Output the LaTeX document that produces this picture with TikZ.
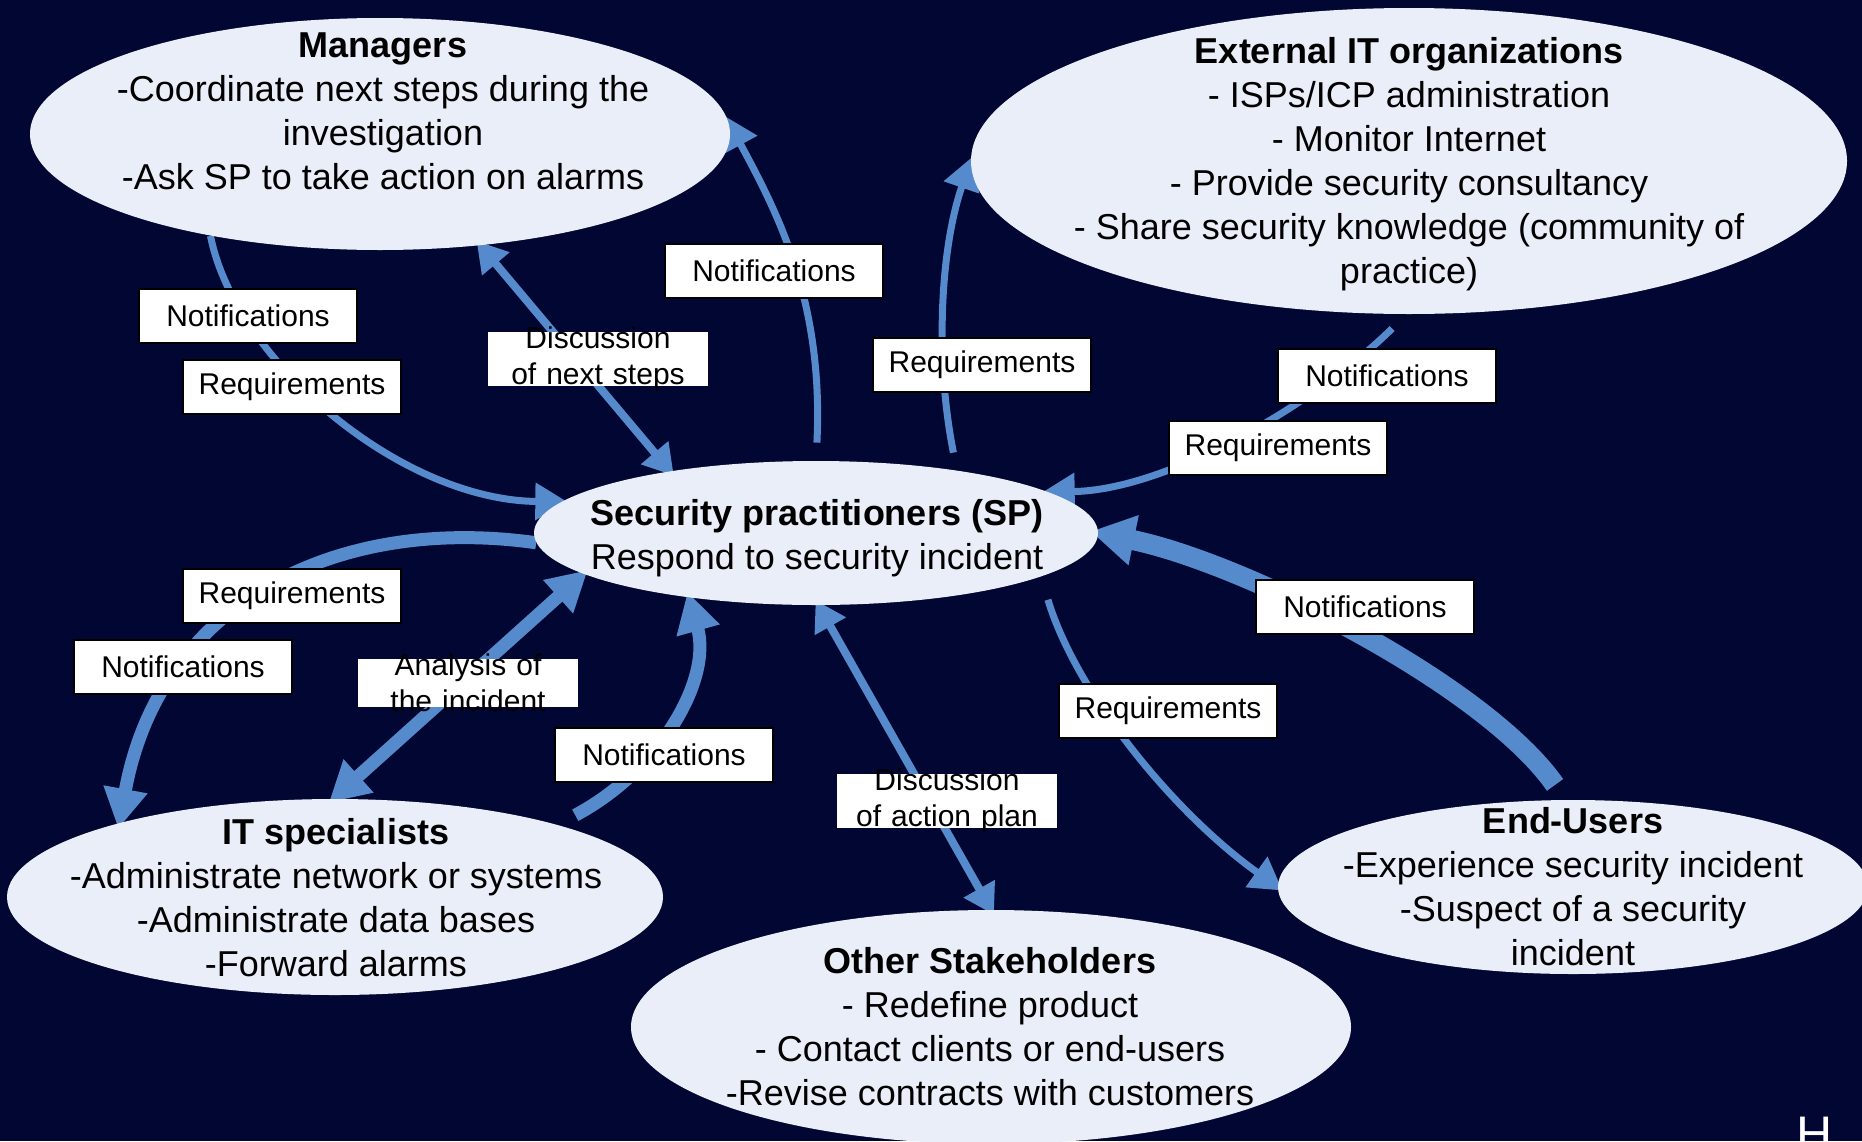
\documentclass[tikz,border=0pt]{standalone}
\usepackage{fontspec}
\setmainfont{Liberation Sans}
\usetikzlibrary{arrows.meta,shapes.geometric}
\definecolor{night}{RGB}{2,6,50}
\definecolor{linkblue}{RGB}{85,138,204}
\definecolor{cloud}{RGB}{233,238,248}
\pgfdeclarelayer{back}
\pgfdeclarelayer{links}
\pgfsetlayers{back,links,main}

\begin{document}
\begin{tikzpicture}[x=0.5pt,y=-0.5pt,
  party/.style={ellipse,fill=cloud,inner sep=0pt},
  partytext/.style={align=center,inner sep=0pt,font=\fontsize{18}{22}\selectfont},
  flowbox/.style={draw=black,line width=1pt,fill=white,inner sep=0pt,minimum width=109pt,minimum height=27pt,font=\fontsize{15}{18}\selectfont},
  talkbox/.style={fill=white,inner xsep=0pt,inner ysep=-2.4pt,text width=110pt,align=center,font=\fontsize{15}{18}\selectfont},
  thinlink/.style={draw=linkblue,line width=3.5pt,-{Triangle[length=16pt,width=18pt]}},
  talklink/.style={draw=linkblue,line width=4pt,{Triangle[length=15pt,width=17pt]}-{Triangle[length=15pt,width=17pt]}},
  itlink/.style={draw=linkblue,line width=6.5pt,-{Triangle[length=20pt,width=21pt]}},
  ittalk/.style={draw=linkblue,line width=6.5pt,{Triangle[length=20pt,width=21pt]}-{Triangle[length=20pt,width=21pt]}},
  heavylink/.style={draw=linkblue,line width=10pt,-{Triangle[length=22pt,width=24pt]}}]
\useasboundingbox (0,0) rectangle (1862,1141);
\begin{pgfonlayer}{back}
\fill[night] (0,0) rectangle (1862,1141); % --- dark slide
\end{pgfonlayer}

%---- the six parties
\node[party,minimum width=350pt,minimum height=116pt] (mgr) at (380,134) {};
\node[party,minimum width=438pt,minimum height=153pt] (ext) at (1409,161) {};
\node[party,minimum width=282pt,minimum height=72pt] (sp) at (816,533) {};
\node[party,minimum width=328pt,minimum height=98pt] (it) at (335,897) {};
\node[party,minimum width=360pt,minimum height=117pt] (oth) at (991,1027) {};
\node[party,minimum width=295pt,minimum height=87pt] (eu) at (1573,887) {};

\node[partytext] (mgr-t) at (383,111) {\textbf{Managers}\\-Coordinate next steps during the\\investigation\\-Ask SP to take action on alarms};
\node[partytext] (ext-t) at (1409,164) {\textbf{External IT organizations}\\- ISPs/ICP administration\\- Monitor Internet\\- Provide security consultancy\\- Share security knowledge (community of\\practice)};
\node[partytext] (sp-t) at (817,538) {\textbf{Security practitioners (SP)}\\Respond to security incident};
\node[partytext] (it-t) at (336,898) {\textbf{IT specialists}\\-Administrate network or systems\\-Administrate data bases\\-Forward alarms};
\node[partytext] (oth-t) at (990,1027) {\textbf{Other Stakeholders}\\- Redefine product\\- Contact clients or end-users\\-Revise contracts with customers};
\node[partytext] (eu-t) at (1573,887) {\textbf{End-Users}\\-Experience security incident\\-Suspect of a security\\incident};

%---- connectors, kept under the ellipses
\begin{pgfonlayer}{links}
\draw[thinlink,shorten >=-3pt] (mgr.211) .. controls (235,360) and (400,500) .. (sp.173);
\draw[talklink,shorten <=-3pt,shorten >=-3pt] (mgr.312) -- (sp.157);
\draw[thinlink,shorten <=9pt,shorten >=-3pt] (sp.north) .. controls (824,300) and (776,210) .. (mgr.2);
\draw[thinlink,shorten <=9pt,shorten >=-2pt] (sp.24) .. controls (935,360) and (940,250) .. (ext.west);
\draw[thinlink,shorten <=10pt,shorten >=-3pt] (ext.269) .. controls (1320,400) and (1170,490) .. (sp.10);
\draw[itlink,shorten >=-3pt] (sp.182) .. controls (340,515) and (160,600) .. (it.161);
\draw[ittalk,shorten <=-3pt,shorten >=-3pt] (sp.190) -- (it.91);
\draw[itlink,shorten <=10pt,shorten >=-3pt] (it.18) .. controls (660,770) and (712,680) .. (sp.207);
\draw[talklink,shorten <=-3pt,shorten >=-3pt] (sp.272) -- (oth.north);
\draw[thinlink,shorten <=12pt,shorten >=-3pt] (sp.349) .. controls (1075,690) and (1170,810) .. (eu.west);
\draw[heavylink,shorten <=9pt,shorten >=-4pt] (eu.95) .. controls (1485,685) and (1245,563) .. (sp.east);
\end{pgfonlayer}

%---- labels on the connectors
\foreach \nm/\x/\y/\txt in {n1/248/316/Notifications, r1/292/387/Requirements,
  n2/774/271/Notifications, r2/982/365/Requirements, n3/1387/376/Notifications,
  r3/1278/448/Requirements, r4/292/596/Requirements, n4/183/667/Notifications,
  n5/664/755/Notifications, r5/1168/711/Requirements, n6/1365/607/Notifications}
  \node[flowbox] (\nm) at (\x,\y) {\txt};
\node[talkbox] (d1) at (598,359) {Discussion\\of next steps};
\node[talkbox] (an) at (468,683) {Analysis of\\the incident};
\node[talkbox] (d2) at (947,801) {Discussion\\of action plan};

\node[white,inner sep=0pt,anchor=north west,font=\fontsize{25}{30}\selectfont] (hmark) at (1796,1117) {H};
\end{tikzpicture}
\end{document}
